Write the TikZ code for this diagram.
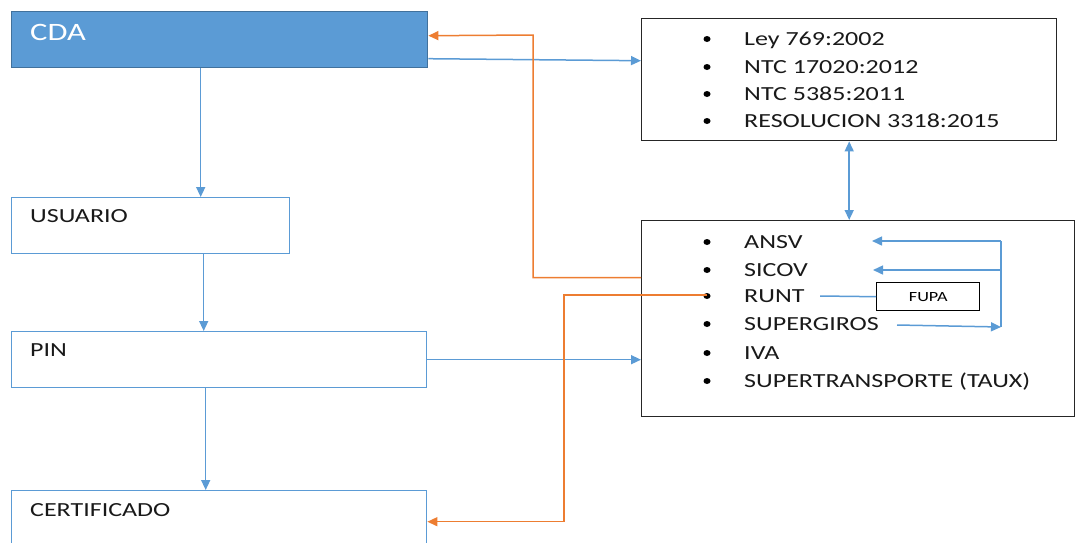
\documentclass[tikz,border=0pt]{standalone}
\usepackage{fontspec}
\setmainfont{Carlito}
\usepackage{graphicx}
\usetikzlibrary{arrows.meta, positioning}
\definecolor{cdablue}{HTML}{5B9BD5}
\definecolor{cdaedge}{HTML}{41719C}
\definecolor{flowblue}{HTML}{5B9BD5}
\definecolor{backorange}{HTML}{ED7D31}
\newcommand{\wide}[1]{\scalebox{1.3}[1]{#1}}
\tikzset{
  flowbox/.style = {draw=flowblue, line width=1.4pt, anchor=north west, inner sep=0pt},
  listbox/.style = {draw=black!85, line width=1.4pt, anchor=north west, inner sep=0pt},
  itemtext/.style = {anchor=base west, inner sep=0pt, text=black!90, font=\fontsize{20}{24}\selectfont},
  blue flow/.style = {draw=flowblue, line width=1.5pt, -{Triangle[length=10pt, width=9pt]}},
  blue both/.style = {draw=flowblue, line width=1.5pt, {Triangle[length=10pt, width=9pt]}-{Triangle[length=10pt, width=9pt]}},
  orange flow/.style = {draw=backorange, line width=1.5pt, -{Triangle[length=10pt, width=9pt]}}
}

\begin{document}
\begin{tikzpicture}[x=1pt, y=-1pt]
  \useasboundingbox (0,0) rectangle (1076,542);

  %% Flujo del CDA

  % CDA
  \node[flowbox, fill=cdablue, draw=cdaedge, minimum width=416pt, minimum height=56pt] (cda) at (11,11) {};
  \node[itemtext, text=white, font=\fontsize{25}{30}\selectfont] (cda-text) at (30,40.5) {\wide{CDA}};

  % Left column
  \node[flowbox, minimum width=278pt, minimum height=56pt] (usuario) at (11,197) {};
  \node[itemtext] (usuario-text) at (30,222.5) {\wide{USUARIO}};
  \node[flowbox, minimum width=415pt, minimum height=56pt] (pin) at (11,331) {};
  \node[itemtext] (pin-text) at (30,356.5) {\wide{PIN}};
  \node[flowbox, minimum width=415pt, minimum height=70pt] (cert) at (11,490) {};
  \node[itemtext] (cert-text) at (30,516.5) {\wide{CERTIFICADO}};

  % Normas
  \node[listbox, minimum width=415pt, minimum height=122pt] (normas) at (641,18) {};
  \fill (707,39) circle[x radius=3.5pt, y radius=3pt];
  \fill (707,67) circle[x radius=3.5pt, y radius=3pt];
  \fill (707,94) circle[x radius=3.5pt, y radius=3pt];
  \fill (707,121) circle[x radius=3.5pt, y radius=3pt];
  \node[itemtext] (ley) at (744,45.5) {\wide{Ley 769:2002}};
  \node[itemtext] (ntc-a) at (744,73.5) {\wide{NTC 17020:2012}};
  \node[itemtext] (ntc-b) at (744,100.5) {\wide{NTC 5385:2011}};
  \node[itemtext] (resol) at (744,127.5) {\wide{RESOLUCION 3318:2015}};

  % Servicios
  \node[listbox, minimum width=433pt, minimum height=196pt] (servicios) at (641,220) {};
  \fill (707,242) circle[x radius=3.5pt, y radius=3pt];
  \fill (707,270) circle[x radius=3.5pt, y radius=3pt];
  \fill (707,296) circle[x radius=3.5pt, y radius=3pt];
  \fill (707,324) circle[x radius=3.5pt, y radius=3pt];
  \fill (707,353) circle[x radius=3.5pt, y radius=3pt];
  \fill (707,381) circle[x radius=3.5pt, y radius=3pt];
  \node[itemtext] (ansv) at (744,248.5) {\wide{ANSV}};
  \node[itemtext] (sicov) at (744,276.5) {\wide{SICOV}};
  \node[itemtext] (runt) at (744,302.5) {\wide{RUNT}};
  \node[itemtext] (giros) at (744,330.5) {\wide{SUPERGIROS}};
  \node[itemtext] (iva) at (744,359.5) {\wide{IVA}};
  \node[itemtext] (taux) at (744,387.5) {\wide{SUPERTRANSPORTE (TAUX)}};

  % FUPA
  \node[listbox, draw=black, minimum width=103pt, minimum height=28pt, font=\fontsize{14}{16}\selectfont] (fupa) at (876,282) {\wide{FUPA}};

  % Links inside servicios
  \coordinate (loop-top) at (1001,241);
  \coordinate (loop-mid) at (1001,270);
  \coordinate (loop-bot) at (1001,327);
  \coordinate (ansv-tip) at (872,241);
  \coordinate (sicov-tip) at (873,270);
  \coordinate (giros-start) at (897,325);
  \coordinate (runt-end) at (820,296);
  \draw[flowblue, line width=1.5pt] (loop-top) -- (loop-bot);
  \draw[blue flow] (loop-top) -- (ansv-tip);
  \draw[blue flow] (loop-mid) -- (sicov-tip);
  \draw[blue flow] (giros-start) -- (loop-bot);
  \draw[flowblue, line width=1.5pt] (runt-end) -- (fupa.west);

  % Blue flow
  \coordinate (cda-out) at ([xshift=-19pt]cda.south);
  \coordinate (usuario-out) at ([xshift=53pt]usuario.south);
  \coordinate (pin-out) at ([xshift=-13.5pt]pin.south);
  \draw[blue flow] (cda-out) -- (cda-out |- usuario.north);
  \draw[blue flow] (usuario-out) -- (usuario-out |- pin.north);
  \draw[blue flow] (pin-out) -- (pin-out |- cert.north);
  \draw[blue flow] ([yshift=-19pt]cda.east) -- ([yshift=19pt]normas.west);
  \draw[blue flow] (pin.east) -- (pin.east -| servicios.west);
  \draw[blue both] (normas.south) -- (normas.south |- servicios.north);

  % Orange returns
  \coordinate (orange-bend) at (533,35);
  \coordinate (runt-dot) at (707,295);
  \coordinate (orange-drop) at (564,295);
  \draw[orange flow] ([yshift=41pt]servicios.west) -| (orange-bend) -- ([yshift=4pt]cda.east);
  \draw[orange flow] (runt-dot) -- (orange-drop) |- ([yshift=4pt]cert.east);

\end{tikzpicture}
\end{document}
